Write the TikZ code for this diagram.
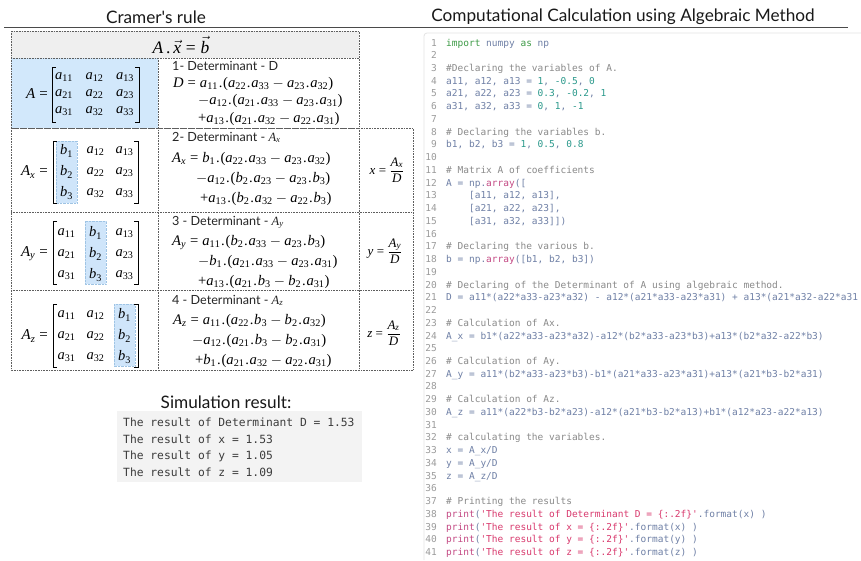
\documentclass[tikz,border=0pt]{standalone}
\usepackage[no-math]{fontspec}
\setmainfont{Liberation Serif}
\setmonofont{DejaVu Sans Mono}
\newfontfamily\uisans{Lato}
% Times-like math letters and digits taken from the serif text font
\DeclareSymbolFont{letters}{TU}{\rmdefault}{m}{it}
\DeclareSymbolFont{operators}{TU}{\rmdefault}{m}{n}
\DeclareSymbolFont{vecletters}{OML}{cmm}{m}{it}
\DeclareMathAccent{\vec}{\mathord}{vecletters}{"7E}

\definecolor{cellblue}{HTML}{D2E8FB}
\definecolor{hlblue}{HTML}{CFE5FA}
\definecolor{hledge}{HTML}{9FC4E4}
\definecolor{headgray}{HTML}{EFEFEF}
\definecolor{tablegray}{HTML}{5E5E5E}
\definecolor{rulegray}{HTML}{4A4A4A}
\definecolor{simbg}{HTML}{F3F3F3}
\definecolor{simtext}{HTML}{3C3C3C}
\definecolor{panelline}{HTML}{E4E4E4}
\definecolor{lnumgray}{HTML}{9B9B9B}
\definecolor{cmtgray}{HTML}{8A8A8A}
\definecolor{idblue}{HTML}{6F80A6}
\definecolor{kwgreen}{HTML}{3E9B47}
\definecolor{numteal}{HTML}{2B998C}
\definecolor{fnpink}{HTML}{C44A84}
\definecolor{strpink}{HTML}{D93A6E}

% small spaced dot used as product sign
\newcommand{\dt}{\mkern1mu\mbox{.}\mkern1mu}
% display-size fraction
\newcommand{\dspfrac}[2]{{\displaystyle\frac{#1}{#2}}}

% syntax colouring for the listing
\newcommand{\kw}[1]{\textcolor{kwgreen}{#1}}
\newcommand{\nm}[1]{\textcolor{numteal}{#1}}
\newcommand{\fn}[1]{\textcolor{fnpink}{#1}}
\newcommand{\st}[1]{\textcolor{strpink}{#1}}
\newcommand{\cm}[1]{\textcolor{cmtgray}{#1}}

\tikzset{
  tabline/.style={draw=tablegray, densely dotted, line width=0.6pt},
  ent/.style={inner sep=0pt, font=\fontsize{14.5}{16}\selectfont},
  matlbl/.style={inner sep=0pt, anchor=east, font=\fontsize{15}{17}\selectfont},
  eqn/.style={anchor=base west, inner sep=0pt, font=\fontsize{14.6}{17}\selectfont},
  lbl/.style={anchor=base west, inner sep=0pt, font=\uisans\fontsize{12.6}{14}\selectfont, text=black!85},
  frc/.style={inner sep=0pt, font=\fontsize{13}{15}\selectfont},
  brk/.style={draw=black, line width=0.9pt},
  hl/.style={fill=hlblue, draw=hledge, densely dotted, line width=0.4pt},
  ttl/.style={inner sep=0pt, font=\uisans\fontsize{17.2}{20}\selectfont, text=black!90},
  lnum/.style={anchor=east, inner sep=0pt, text height=7pt, text depth=2pt,
    font=\ttfamily\fontsize{9.5}{11}\selectfont, text=lnumgray},
  codeline/.style={anchor=west, inner sep=0pt, text height=7pt, text depth=2pt,
    font=\ttfamily\fontsize{9.5}{11}\selectfont, text=idblue},
  simline/.style={anchor=west, inner sep=0pt, text height=8pt, text depth=2.5pt,
    font=\ttfamily\fontsize{11.3}{13}\selectfont, text=simtext},
}

% 3x3 matrix entries: name, x0, y0, column step, row step, entries
\newcommand{\putmatrix}[6]{%
  \foreach \e [count=\i from 0] in {#6} {%
    \pgfmathtruncatemacro{\cc}{mod(\i,3)}%
    \pgfmathtruncatemacro{\rr}{floor(\i/3)}%
    \node[ent] (#1-\rr-\cc) at ({#2+\cc*#4},{#3+\rr*#5}) {$\e$};
  }}
% square brackets: left x, right x, top, bottom
\newcommand{\mbrackets}[4]{%
  \draw[brk] ({#1+4},#3) -- (#1,#3) -- (#1,#4) -- ({#1+4},#4);
  \draw[brk] ({#2-4},#3) -- (#2,#3) -- (#2,#4) -- ({#2-4},#4);}
% one numbered line of the listing
\newcommand{\cl}[2]{%
  \node[lnum] (n#1) at (437,{43.5+12.74*(#1-1)}) {#1};
  \node[codeline] (l#1) at (446,{43.5+12.74*(#1-1)}) {#2};}

\begin{document}
\begin{tikzpicture}[x=1pt,y=-1pt]
\useasboundingbox[fill=white] (0,0) rectangle (861,560);

% ---------- titles ----------
\node[ttl] (t1) at (156,17) {Cramer's rule};
\node[ttl] (t2) at (623,17) {Computational Calculation using Algebraic Method};
\draw[rulegray, line width=0.8pt] (4,27) -- (848,27);

% ---------- table ----------
\fill[headgray] (11,31) rectangle (359,58);
\fill[cellblue] (11,58) rectangle (158,128);
\draw[tabline] (11,31) rectangle (359,128);
\draw[tabline] (11,58) -- (359,58);
\draw[tabline] (158,58) -- (158,370);
\draw[tabline] (11,128) rectangle (413,370);
\draw[tabline] (11,212) -- (413,212);
\draw[tabline] (11,290) -- (413,290);
\draw[tabline] (359,128) -- (359,370);

\node[inner sep=0pt, font=\fontsize{17.5}{19}\selectfont] (hdr) at (181,45) {$A\mkern3mu\mbox{.}\mkern3mu\vec{x}=\vec{b}$};

% row 1 : D
\node[matlbl] (lA) at (48,94) {$A=$};
\putmatrix{mA}{64}{77}{30.5}{17}{a_{11},a_{12},a_{13},a_{21},a_{22},a_{23},a_{31},a_{32},a_{33}}
\mbrackets{52}{139}{67}{122}
\node[lbl] (d1) at (172,70) {1- Determinant - D};
\node[eqn] (e11) at (173,87) {$D=a_{11}\dt(a_{22}\dt a_{33}-a_{23}\dt a_{32})$};
\node[eqn] (e12) at (198,104.5) {$-a_{12}\dt(a_{21}\dt a_{33}-a_{23}\dt a_{31})$};
\node[eqn] (e13) at (198,122) {$+a_{13}\dt(a_{21}\dt a_{32}-a_{22}\dt a_{31})$};

% row 2 : A_x
\filldraw[hl] (56,141) rectangle (77,203);
\node[matlbl] (lAx) at (48,172) {$A_x=$};
\putmatrix{mX}{66.5}{151}{29}{21}{b_1,a_{12},a_{13},b_2,a_{22},a_{23},b_3,a_{32},a_{33}}
\mbrackets{53}{138}{141}{203}
\node[lbl] (d2) at (172,141) {2- Determinant - $A_x$};
\node[eqn] (e21) at (172,162) {$A_x=b_1\dt(a_{22}\dt a_{33}-a_{23}\dt a_{32})$};
\node[eqn] (e22) at (196,182) {$-a_{12}\dt(b_2\dt a_{23}-a_{23}\dt b_3)$};
\node[eqn] (e23) at (200,202) {$+a_{13}\dt(b_2\dt a_{32}-a_{22}\dt b_3)$};
\node[frc] (fx) at (387,170) {$x=\dspfrac{A_x}{D}$};

% row 3 : A_y
\filldraw[hl] (85,221) rectangle (106,284);
\node[matlbl] (lAy) at (48,254) {$A_y=$};
\putmatrix{mY}{66.5}{233}{29}{21}{a_{11},b_1,a_{13},a_{21},b_2,a_{23},a_{31},b_3,a_{33}}
\mbrackets{53}{138}{221}{284}
\node[lbl] (d3) at (172,225) {3 - Determinant - $A_y$};
\node[eqn] (e31) at (172,245) {$A_y=a_{11}\dt(b_2\dt a_{33}-a_{23}\dt b_3)$};
\node[eqn] (e32) at (198,265) {$-b_1\dt(a_{21}\dt a_{33}-a_{23}\dt a_{31})$};
\node[eqn] (e33) at (198,285) {$+a_{13}\dt(a_{21}\dt b_3-b_2\dt a_{31})$};
\node[frc] (fy) at (385,251) {$y=\dspfrac{A_y}{D}$};

% row 4 : A_z
\filldraw[hl] (114,304) rectangle (135,366);
\node[matlbl] (lAz) at (48,336) {$A_z=$};
\putmatrix{mZ}{66.5}{315}{29}{21}{a_{11},a_{12},b_1,a_{21},a_{22},b_2,a_{31},a_{32},b_3}
\mbrackets{53}{138}{304}{367}
\node[lbl] (d4) at (172,304) {4 - Determinant - $A_z$};
\node[eqn] (e41) at (173,324) {$A_z=a_{11}\dt(a_{22}\dt b_3-b_2\dt a_{32})$};
\node[eqn] (e42) at (192,344) {$-a_{12}\dt(a_{21}\dt b_3-b_2\dt a_{31})$};
\node[eqn] (e43) at (195,364) {$+b_1\dt(a_{21}\dt a_{32}-a_{22}\dt a_{31})$};
\node[frc] (fz) at (384,333) {$z=\dspfrac{A_z}{D}$};

% ---------- simulation output ----------
\node[ttl] (simt) at (226,402) {Simulation result:};
\fill[simbg] (117,411) rectangle (362,482);
\node[simline] (s1) at (123,424) {The result of Determinant D = 1.53};
\node[simline] (s2) at (123,440.5) {The result of x = 1.53};
\node[simline] (s3) at (123,457) {The result of y = 1.05};
\node[simline] (s4) at (123,473.5) {The result of z = 1.09};

% ---------- listing ----------
\draw[panelline, line width=0.8pt, rounded corners=3pt] (861,33) -- (424,33) -- (424,560);
\cl{1}{\kw{import} numpy \kw{as} np}
\cl{2}{}
\cl{3}{\cm{\#Declaring the variables of A.}}
\cl{4}{a11, a12, a13 = \nm{1}, \nm{-0.5}, \nm{0}}
\cl{5}{a21, a22, a23 = \nm{0.3}, \nm{-0.2}, \nm{1}}
\cl{6}{a31, a32, a33 = \nm{0}, \nm{1}, \nm{-1}}
\cl{7}{}
\cl{8}{\cm{\# Declaring the variables b.}}
\cl{9}{b1, b2, b3 = \nm{1}, \nm{0.5}, \nm{0.8}}
\cl{10}{}
\cl{11}{\cm{\# Matrix A of coefficients}}
\cl{12}{A = np.\fn{array}([}
\cl{13}{\phantom{0000}[a11, a12, a13],}
\cl{14}{\phantom{0000}[a21, a22, a23],}
\cl{15}{\phantom{0000}[a31, a32, a33]])}
\cl{16}{}
\cl{17}{\cm{\# Declaring the various b.}}
\cl{18}{b = np.\fn{array}([b1, b2, b3])}
\cl{19}{}
\cl{20}{\cm{\# Declaring of the Determinant of A using algebraic method.}}
\cl{21}{D = a11*(a22*a33-a23*a32) - a12*(a21*a33-a23*a31) + a13*(a21*a32-a22*a31}
\cl{22}{}
\cl{23}{\cm{\# Calculation of Ax.}}
\cl{24}{A\_x = b1*(a22*a33-a23*a32)-a12*(b2*a33-a23*b3)+a13*(b2*a32-a22*b3)}
\cl{25}{}
\cl{26}{\cm{\# Calculation of Ay.}}
\cl{27}{A\_y = a11*(b2*a33-a23*b3)-b1*(a21*a33-a23*a31)+a13*(a21*b3-b2*a31)}
\cl{28}{}
\cl{29}{\cm{\# Calculation of Az.}}
\cl{30}{A\_z = a11*(a22*b3-b2*a23)-a12*(a21*b3-b2*a13)+b1*(a12*a23-a22*a13)}
\cl{31}{}
\cl{32}{\cm{\# calculating the variables.}}
\cl{33}{x = A\_x/D}
\cl{34}{y = A\_y/D}
\cl{35}{z = A\_z/D}
\cl{36}{}
\cl{37}{\cm{\# Printing the results}}
\cl{38}{\fn{print}(\st{'The result of Determinant D = \{:.2f\}'}.format(x) )}
\cl{39}{\fn{print}(\st{'The result of x = \{:.2f\}'}.format(x) )}
\cl{40}{\fn{print}(\st{'The result of y = \{:.2f\}'}.format(y) )}
\cl{41}{\fn{print}(\st{'The result of z = \{:.2f\}'}.format(z) )}
\end{tikzpicture}
\end{document}
